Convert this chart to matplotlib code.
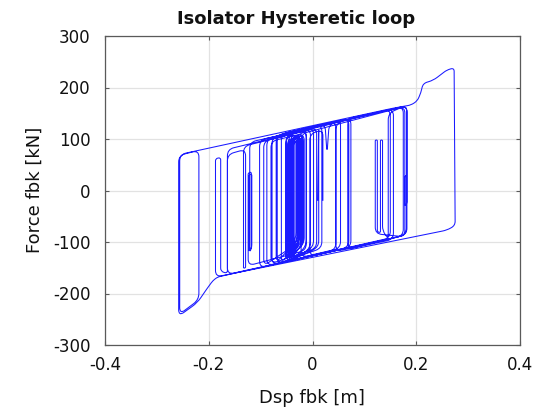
import numpy as np
import matplotlib
matplotlib.use("Agg")
import matplotlib.pyplot as plt
from matplotlib.path import Path
from matplotlib.patches import PathPatch

# ---------------- data (turning points) ----------------
dsp = [0.010,
       0.012, 0.012, -0.046, -0.046, -0.004, -0.004, -0.036, -0.036,
       0.002, 0.002, -0.050, -0.050, -0.012, -0.012, -0.040, -0.040,
       -0.020, -0.020, -0.044, -0.044, -0.026, -0.026, -0.060, -0.060,
       0.018, 0.018, -0.068, -0.068, 0.045, 0.045, -0.078, -0.078,
       0.070, 0.070, -0.088, -0.088, 0.150, 0.150, -0.102, -0.102,
       0.175, 0.175, -0.164, -0.164, 0.182, 0.182,
       -0.183, -0.192, -0.203, -0.222, -0.258, -0.258,
       -0.219, -0.219, -0.256, -0.256,
       0.156, 0.190, 0.202, 0.209, 0.213, 0.233, 0.259, 0.273, 0.275, 0.259,
       -0.187, -0.187, -0.177, -0.177, -0.164, -0.164, -0.129, -0.129,
       -0.133, -0.133, -0.012, -0.012,
       -0.124, -0.124, -0.118, -0.118, -0.123, -0.123, -0.117, -0.117,
       -0.121, -0.121, -0.040, -0.040, -0.094, -0.094, 0.008, 0.008,
       -0.080, -0.080, -0.028, -0.028, -0.052, -0.052, -0.016, -0.016,
       -0.048, -0.048, -0.024, -0.024, -0.042, -0.042, -0.030, -0.030,
       -0.038, -0.038, -0.032, -0.032,
       -0.046, -0.046, -0.022, -0.022, -0.044, -0.044, -0.018, -0.018,
       -0.040, -0.040, -0.026, -0.026, -0.036, -0.036, -0.028, -0.028,
       -0.070, -0.070,
       0.024, 0.028, 0.032, 0.054, 0.054, -0.022, -0.022,
       0.178, 0.178,
       0.121, 0.121, 0.125, 0.125, 0.131, 0.131, 0.135, 0.135,
       0.146, 0.146,
       0.182, 0.182, 0.178, 0.178, 0.181, 0.181,
       0.068, 0.068, 0.156, 0.156, 0.045, 0.045, 0.074, 0.074,
       -0.005, -0.005, 0.020, 0.020]

force = [-20,
         125, -110, -138, 108, 120, -112, -134, 104,
         122, -110, -139, 108, 118, -108, -135, 100,
         112, -104, -136, 96, 110, -100, -141, 110,
         128, -112, -142, 108, 134, -115, -144, 104,
         140, -110, -146, 100, 158, -92, -150, 98,
         163, -88, -163, 80, 165, -86,
         -168, -175, -190, -218, -244, 68,
         78, -212, -240, 70,
         160, 166, 174, 190, 208, 214, 234, 238, -68, -77,
         -168, 62, 64, -157, -161, 70, 80, -150,
         -151, 86, 116, -116,
         -146, 34, 36, -112, -118, 30, 32, -110,
         -120, 94, 112, -110, -146, 96, 122, -112,
         -142, 96, 108, -106, -136, 104, 110, -104,
         -132, 100, 104, -100, -128, 96, 100, -96,
         -122, 92, 96, -94,
         -126, 98, 106, -102, -130, 100, 108, -104,
         -128, 96, 102, -98, -120, 92, 98, -96,
         -140, 106,
         130, 72, 128, 137, -112, -130, 110,
         163, -90,
         -84, 98, 98, -80, -82, 98, 98, -78,
         -94, 150,
         166, -25, -30, 27, 30, -86,
         -114, 140, 158, -95, -118, 130, 141, -110,
         -128, 110, 118, -20]

x_ticks = [-0.4, -0.2, 0.0, 0.2, 0.4]
x_tick_labels = ["-0.4", "-0.2", "0", "0.2", "0.4"]
y_ticks = [-300, -200, -100, 0, 100, 200, 300]
y_tick_labels = ["-300", "-200", "-100", "0", "100", "200", "300"]

title_text = "Isolator Hysteretic loop"
x_label = "Dsp fbk [m]"
y_label = "Force fbk [kN]"

# ---------------- figure ----------------
plt.rcParams['axes.unicode_minus'] = False
W, H = 551, 412
fig = plt.figure(figsize=(W / 100, H / 100), dpi=100)
ax_l, ax_r, ax_t, ax_b = 105, 520, 36, 345
ax = fig.add_axes([ax_l / W, (H - ax_b) / H, (ax_r - ax_l) / W, (ax_b - ax_t) / H])
ax.set_xlim(-0.4, 0.4)
ax.set_ylim(-300, 300)

# rounded-corner path through the turning points (rounding done in pixel space)
sx = (ax_r - ax_l) / 0.8
sy = (ax_b - ax_t) / 600.0
P = np.column_stack([np.array(dsp) * sx, np.array(force) * sy])
verts = [tuple(P[0])]
codes = [Path.MOVETO]
R = 6.5
for i in range(1, len(P) - 1):
    a, b, c = P[i - 1], P[i], P[i + 1]
    din = b - a
    dout = c - b
    lin = np.hypot(*din)
    lout = np.hypot(*dout)
    if lin < 1e-9 or lout < 1e-9:
        continue
    r = min(R, 0.45 * lin, 0.45 * lout)
    pin = b - din / lin * r
    pout = b + dout / lout * r
    verts += [tuple(pin), tuple(b), tuple(pout)]
    codes += [Path.LINETO, Path.CURVE3, Path.CURVE3]
verts.append(tuple(P[-1]))
codes.append(Path.LINETO)
verts = np.array(verts)
verts[:, 0] /= sx
verts[:, 1] /= sy
path = Path(verts, codes)
ax.add_patch(PathPatch(path, facecolor='none', edgecolor='#1a1aff', lw=0.75,
                       zorder=3))

ax.set_xticks(x_ticks)
ax.set_xticklabels(x_tick_labels)
ax.set_yticks(y_ticks)
ax.set_yticklabels(y_tick_labels)
ax.grid(True, color='#e2e2e2', lw=0.9, ls='-', zorder=0)
ax.set_axisbelow(True)
for s in ax.spines.values():
    s.set_color('#5a5a5a')
    s.set_linewidth(0.9)
ax.tick_params(axis='both', direction='in', length=3, width=0.8,
               color='#5a5a5a', top=True, right=True, labelsize=12,
               labelcolor='#111111')
ax.tick_params(axis='y', pad=10.5)
ax.tick_params(axis='x', pad=8.0)

fig.text(296 / W, 1 - 19 / H, title_text, ha='center', va='center',
         fontsize=13, fontweight='bold', color='#111111')
fig.text(312 / W, 1 - 398 / H, x_label, ha='center', va='center',
         fontsize=13, color='#111111')
fig.text(35 / W, 1 - 190 / H, y_label, ha='center', va='center',
         rotation=90, fontsize=13, color='#111111')

fig.savefig("out.png", dpi=100)
